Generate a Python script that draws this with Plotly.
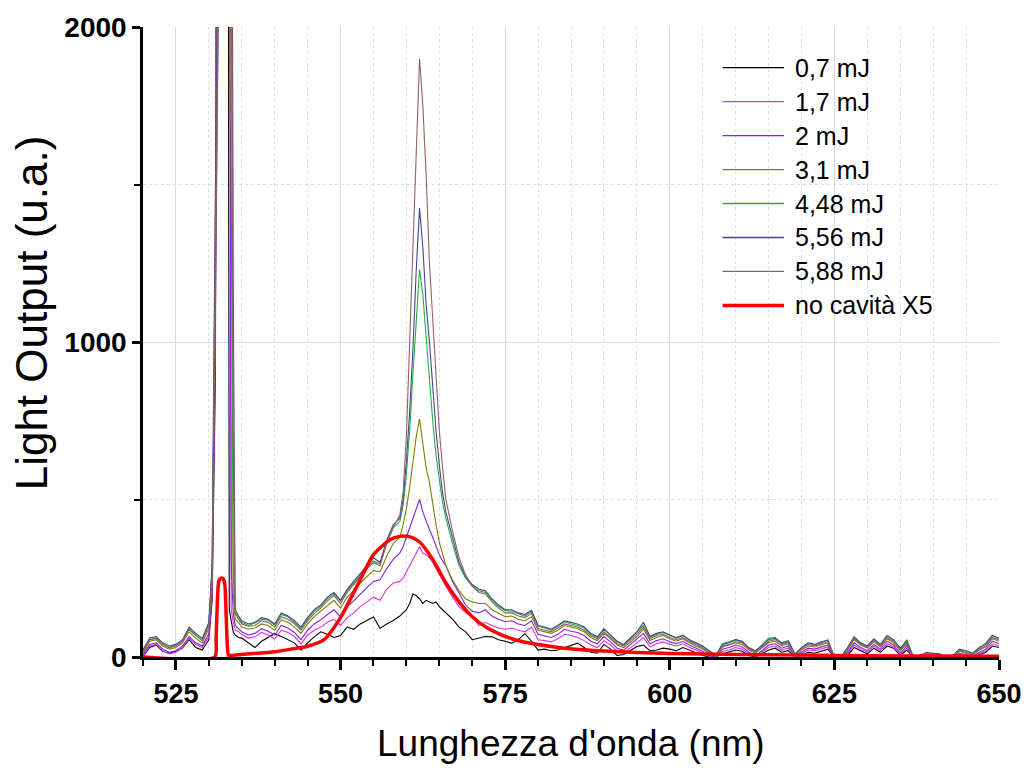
import plotly.graph_objects as go

# ---------------- data ----------------
# shared wavelength grid (nm)
x_a = [520, 521, 522, 523, 524, 525, 526, 527, 528, 529, 530]
x_s = [530.5, 531, 531.3, 532, 532.8, 533.1, 533.4, 533.7, 534, 534.5]
x_b = list(range(535, 559))
x_p = [559, 559.5, 560, 560.5, 561, 561.5, 562, 562.5, 563, 563.5, 564, 564.5, 565, 565.5, 566]
x_c = list(range(567, 651))
wavelength = x_a + x_s + x_b + x_p + x_c

s_07 = ([0, 30, 38, 18, 12, 18, 28, 55, 30, 22, 55]
        + [180, 900, 5000, 5000, 5000, 150, 110, 80, 70, 62]
        + [60, 45, 30, 50, 62, 74, 65, 55, 45, 22, 45, 64, 80, 72, 62, 68, 95, 88, 105, 116, 127, 91, 105, 116]
        + [130, 140, 150, 170, 200, 195, 185, 170, 180, 175, 170, 175, 160, 150, 140]
        + [120, 95, 80, 55, 60, 65, 64, 55, 50, 44,
           55, 74, 50, 22, 25, 20, 22, 30, 38, 44,
           30, 15, 12, 40, 25, 5, 8, 20, 33, 38,
           20, 22, 28, 25, 20, 30, 22, 12, 5, 0,
           0, 10, 15, 22, 18, 5, 0, 10, 22, 28,
           15, 20, 0, 5, 15, 12, 18, 25, 0, 0,
           5, 30, 20, 10, 28, 15, 35, 28, 5, 22,
           0, 0, 0, 0, 0, 0, 0, 5, 0, 0,
           8, 15, 35, 30])

s_17 = ([0, 35, 40, 20, 10, 15, 30, 60, 40, 30, 65]
        + [200, 1000, 5000, 5000, 5000, 2500, 150, 110, 85, 80]
        + [72, 60, 64, 78, 70, 58, 85, 78, 65, 42, 70, 85, 95, 110, 120, 100, 125, 140, 160, 175, 190, 180, 215, 235]
        + [240, 250, 270, 290, 310, 330, 350, 330, 325, 315, 300, 280, 260, 240, 225]
        + [190, 160, 140, 130, 100, 110, 100, 92, 88, 92,
           85, 80, 95, 55, 52, 48, 58, 72, 68, 62,
           52, 38, 30, 52, 38, 18, 12, 30, 45, 62,
           32, 42, 48, 40, 35, 42, 30, 22, 12, 2,
           0, 18, 22, 30, 25, 10, 2, 15, 30, 35,
           22, 28, 0, 10, 22, 20, 25, 32, 0, 0,
           10, 38, 25, 15, 35, 20, 42, 32, 8, 28,
           0, 0, 0, 0, 0, 0, 0, 8, 5, 0,
           10, 20, 42, 35])

s_2 = ([5, 40, 45, 25, 15, 20, 35, 65, 45, 35, 75]
       + [220, 1100, 5000, 5000, 5000, 3500, 300, 140, 100, 90]
       + [80, 70, 75, 90, 82, 70, 100, 92, 78, 55, 85, 105, 118, 135, 150, 128, 160, 178, 200, 220, 240, 245, 280, 310]
       + [330, 350, 380, 410, 440, 470, 500, 460, 430, 405, 380, 350, 325, 305, 290]
       + [240, 200, 165, 145, 140, 150, 130, 120, 112, 115,
          105, 100, 115, 72, 68, 62, 72, 88, 82, 78,
          68, 50, 42, 65, 48, 28, 22, 40, 55, 75,
          42, 52, 58, 48, 42, 50, 38, 28, 18, 5,
          0, 25, 30, 38, 32, 15, 5, 20, 38, 42,
          28, 35, 0, 15, 28, 25, 32, 38, 0, 0,
          15, 45, 30, 20, 40, 25, 50, 38, 12, 35,
          0, 0, 3, 0, 0, 0, 0, 12, 8, 0,
          15, 25, 50, 42])

s_31 = ([10, 50, 55, 35, 25, 30, 45, 80, 60, 45, 90]
        + [250, 1200, 5000, 5000, 5000, 4000, 1500, 200, 120, 110]
        + [95, 88, 92, 105, 100, 85, 118, 110, 95, 75, 105, 128, 145, 165, 180, 155, 190, 210, 235, 255, 275, 270, 320, 360]
        + [380, 420, 470, 540, 620, 700, 755, 680, 600, 555, 480, 420, 365, 325, 290]
        + [245, 210, 185, 175, 170, 170, 150, 138, 128, 130,
           120, 115, 128, 85, 80, 75, 85, 100, 95, 90,
           80, 62, 52, 75, 58, 38, 30, 48, 65, 88,
           52, 62, 68, 58, 50, 58, 45, 35, 25, 12,
           0, 32, 38, 45, 40, 22, 12, 28, 45, 50,
           35, 42, 3, 22, 35, 32, 38, 45, 0, 0,
           22, 55, 38, 28, 48, 32, 58, 45, 20, 42,
           0, 0, 8, 5, 3, 0, 0, 18, 12, 5,
           22, 32, 58, 50])

s_448 = ([25, 55, 60, 40, 30, 38, 50, 90, 70, 55, 105]
         + [280, 1400, 5000, 5000, 5000, 4500, 2500, 300, 140, 125]
         + [110, 100, 108, 120, 118, 100, 135, 128, 110, 90, 120, 145, 160, 185, 200, 178, 210, 235, 260, 285, 305, 295, 360, 410]
         + [430, 480, 580, 720, 900, 1080, 1230, 1150, 1010, 870, 750, 640, 560, 490, 440]
         + [360, 290, 250, 225, 210, 205, 180, 160, 148, 145,
            138, 130, 145, 98, 92, 85, 98, 112, 105, 100,
            92, 72, 62, 90, 68, 48, 38, 58, 78, 100,
            62, 72, 78, 68, 62, 70, 52, 42, 30, 18,
            5, 42, 48, 55, 48, 28, 18, 38, 60, 62,
            42, 48, 8, 28, 42, 38, 45, 55, 0, 0,
            28, 60, 42, 32, 55, 38, 62, 50, 25, 55,
            0, 5, 12, 10, 8, 0, 5, 22, 18, 10,
            28, 45, 70, 55])

s_556 = ([20, 60, 65, 45, 35, 40, 55, 95, 75, 60, 110]
         + [300, 1500, 5000, 5000, 5000, 4800, 3500, 1200, 150, 130]
         + [115, 105, 110, 125, 120, 105, 140, 130, 115, 95, 125, 150, 165, 190, 205, 180, 215, 240, 265, 290, 315, 300, 370, 420]
         + [440, 500, 620, 780, 980, 1230, 1425, 1300, 1120, 1000, 850, 720, 610, 520, 460]
         + [380, 300, 255, 230, 215, 210, 185, 165, 150, 150,
            140, 135, 148, 100, 95, 88, 100, 115, 110, 105,
            95, 75, 65, 88, 70, 50, 40, 60, 80, 110,
            65, 75, 80, 70, 60, 68, 55, 45, 35, 20,
            5, 40, 45, 55, 50, 30, 20, 35, 55, 60,
            45, 52, 10, 30, 45, 40, 48, 53, 0, 0,
            30, 65, 45, 35, 58, 40, 68, 55, 28, 50,
            0, 5, 15, 12, 10, 0, 5, 25, 20, 12,
            30, 40, 68, 60])

s_588 = ([15, 55, 60, 42, 30, 35, 50, 88, 68, 52, 100]
         + [270, 1300, 5000, 5000, 5000, 4600, 3000, 700, 140, 120]
         + [105, 98, 100, 115, 110, 95, 128, 120, 105, 85, 115, 138, 155, 178, 195, 170, 205, 230, 255, 280, 300, 290, 360, 410]
         + [450, 520, 700, 1000, 1300, 1600, 1900, 1750, 1530, 1250, 1060, 880, 720, 600, 500]
         + [400, 315, 260, 225, 205, 200, 175, 155, 140, 140,
            130, 125, 138, 90, 85, 80, 92, 105, 100, 95,
            85, 68, 58, 80, 62, 42, 35, 52, 72, 95,
            58, 68, 72, 62, 55, 62, 48, 40, 28, 15,
            2, 35, 40, 48, 45, 25, 15, 30, 50, 55,
            40, 45, 5, 25, 40, 35, 42, 48, 0, 0,
            25, 58, 40, 30, 52, 35, 62, 50, 22, 45,
            0, 2, 10, 8, 5, 0, 2, 20, 15, 8,
            25, 35, 62, 55])

# no cavity (x5) reference curve
x_red = [520, 530.9, 531.1, 531.3, 531.5, 531.8, 532.1, 532.4, 532.6, 532.8, 533, 533.5,
         535, 540, 542.5, 545, 547.5, 550, 552.5, 555, 557.5, 559, 560.5, 562, 564, 566,
         568, 570, 572, 574, 576, 578, 580, 584, 590, 595, 600, 610, 620, 630, 640, 650]
y_red = [0, 0, 60, 180, 240, 250, 250, 235, 150, 40, 5, 5,
         8, 17, 25, 34, 55, 125, 225, 325, 372, 383, 382, 365, 310, 235,
         175, 128, 96, 74, 58, 47, 40, 28, 19, 14, 11, 8, 6, 4, 3, 2]

series_names = ["0,7 mJ", "1,7 mJ", "2 mJ", "3,1 mJ", "4,48 mJ", "5,56 mJ", "5,88 mJ"]
series_values = [s_07, s_17, s_2, s_31, s_448, s_556, s_588]
series_colors = ["#000000", "#E22FE2", "#8022E0", "#7F7F00", "#1FB040", "#45458F", "#906262"]
red_name = "no cavità X5"
red_color = "#FF0000"

x_ticks = [525, 550, 575, 600, 625, 650]
y_ticks = [0, 1000, 2000]

# ---------------- figure ----------------
W, H = 1034, 768
L, R, T, B = 143, 27, 21, 111
pw, ph = W - L - R, H - T - B

fig = go.Figure()
for name, vals, col in zip(series_names, series_values, series_colors):
    fig.add_trace(go.Scatter(x=wavelength, y=vals, mode="lines", name=name,
                             line=dict(color=col, width=1.1), showlegend=False))
fig.add_trace(go.Scatter(x=x_red, y=y_red, mode="lines", name=red_name,
                         line=dict(color=red_color, width=3.5, shape="spline", smoothing=0.6),
                         showlegend=False))

FONT = "Liberation Sans, Arial, sans-serif"

fig.update_layout(
    width=W, height=H,
    margin=dict(l=L, r=R, t=T, b=B),
    paper_bgcolor="white", plot_bgcolor="white",
    font=dict(family=FONT, color="black"),
    showlegend=False,
)
fig.update_xaxes(
    range=[520, 650], tickvals=x_ticks, ticks="outside", ticklen=10, tickwidth=2.5,
    tickcolor="black", showline=True, linewidth=2.5, linecolor="black",
    showgrid=True, gridcolor="#DADADA", gridwidth=1, zeroline=False,
    tickfont=dict(family=FONT, size=27, color="black", weight="bold"),
    ticklabelstandoff=1,
    minor=dict(dtick=5, tick0=520, ticks="outside", ticklen=6, tickwidth=2,
               tickcolor="black", showgrid=True, griddash="dot", gridcolor="#DDDDDD", gridwidth=1),
)
fig.update_yaxes(
    range=[0, 2000], tickvals=y_ticks, ticks="outside", ticklen=8, tickwidth=2.5,
    tickcolor="black", showline=True, linewidth=2.5, linecolor="black",
    showgrid=True, gridcolor="#DADADA", gridwidth=1, zeroline=False,
    tickfont=dict(family=FONT, size=28, color="black", weight="bold"),
    ticklabelstandoff=0,
    minor=dict(dtick=500, tick0=0, ticks="outside", ticklen=6, tickwidth=2,
               tickcolor="black", showgrid=True, griddash="dot", gridcolor="#DDDDDD", gridwidth=1),
)

def px_x(px):
    return (px - L) / pw

def px_y(py):
    return (H - B - py) / ph

# axis titles
fig.add_annotation(text="Lunghezza d'onda (nm)", xref="paper", yref="paper",
                   x=px_x(575), y=px_y(744), xanchor="center", yanchor="middle",
                   showarrow=False, font=dict(family=FONT, size=37, color="black"))
fig.add_annotation(text="Light Output (u.a.)", xref="paper", yref="paper",
                   x=px_x(30), y=px_y(310), xanchor="center", yanchor="middle",
                   showarrow=False, textangle=-90,
                   font=dict(family=FONT, size=44, color="black"))

# manual legend
leg_names = series_names + [red_name]
leg_colors = series_colors + [red_color]
leg_widths = [1.3] * len(series_names) + [3.5]
for i, (nm, col, lw) in enumerate(zip(leg_names, leg_colors, leg_widths)):
    yc = 62 + 34.3 * i
    fig.add_shape(type="line", xref="paper", yref="paper",
                  x0=px_x(728), x1=px_x(790), y0=px_y(yc), y1=px_y(yc),
                  line=dict(color=col, width=lw))
    fig.add_annotation(text=nm, xref="paper", yref="paper", x=px_x(799), y=px_y(yc),
                       xanchor="left", yanchor="middle", showarrow=False,
                       font=dict(family=FONT, size=25, color="black"))

fig.write_html("out.html")
